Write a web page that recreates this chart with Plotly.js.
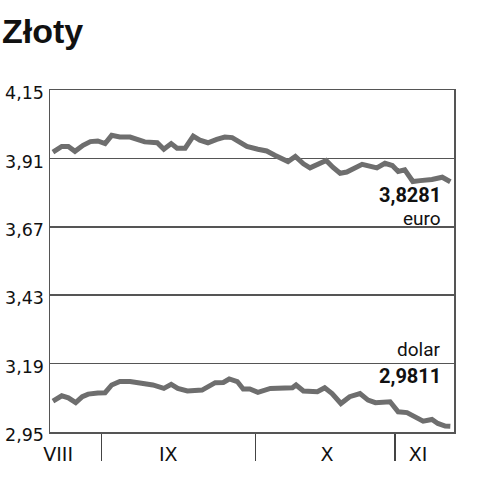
<!DOCTYPE html>
<html>
<head>
<meta charset="utf-8">
<script src="https://cdn.plot.ly/plotly-3.0.1.min.js"></script>
<style>html,body{margin:0;padding:0;background:#fff;}#chart{width:482px;height:480px;}</style>
</head>
<body>
<div id="chart"></div>
<script>
// Trading-day positions (approximate) and PLN rates
const euroDays = [0.4,1.6,2.5,3.4,4.5,5.5,6.5,7.5,8.4,9.5,10.9,11.8,12.9,14.6,15.5,16.5,17.3,18.4,19.5,20.4,21.5,22.7,23.8,24.8,25.6,26.8,28.3,29.5,30.6,32.4,33.4,34.5,35.4,36.5,37.6,38.5,39.5,40.4,42.5,44.5,45.6,46.6,47.4,48.3,49.4,50.4,52.0,53.4,54.5];
const euroValues = [3.932,3.952,3.952,3.935,3.956,3.969,3.971,3.962,3.991,3.985,3.985,3.979,3.968,3.965,3.942,3.962,3.946,3.946,3.988,3.974,3.965,3.977,3.985,3.983,3.971,3.952,3.942,3.936,3.921,3.899,3.917,3.891,3.877,3.891,3.903,3.879,3.858,3.862,3.889,3.877,3.893,3.885,3.864,3.870,3.829,3.832,3.836,3.844,3.828];
const dollarDays = [0.4,1.6,2.5,3.5,4.4,5.2,6.5,7.5,8.4,9.5,10.9,12.3,14.0,15.5,16.5,17.4,18.7,20.7,21.5,22.5,23.6,24.4,25.5,26.3,27.2,28.3,30.0,31.7,33.0,33.5,34.5,36.4,37.4,38.4,39.6,40.8,42.2,43.3,44.3,46.3,47.4,48.6,49.7,50.8,52.0,52.8,53.8,54.5];
const dollarValues = [3.058,3.077,3.070,3.053,3.074,3.083,3.087,3.088,3.115,3.127,3.127,3.123,3.115,3.103,3.117,3.103,3.094,3.097,3.109,3.123,3.124,3.136,3.127,3.101,3.101,3.089,3.103,3.105,3.105,3.115,3.094,3.091,3.105,3.085,3.050,3.074,3.085,3.062,3.053,3.056,3.021,3.018,3.003,2.988,2.994,2.980,2.971,2.970];
const yTicks = [2.95,3.19,3.43,3.67,3.91,4.15];
const monthBoundaries = [7, 28, 47];
const monthLabels = ['VIII','IX','X','XI'];
const monthLabelDays = [1.1, 16.1, 37.7, 50.1];
const euroLast = '3,8281';
const dollarLast = '2,9811';
const seriesNames = ['euro','dolar'];

const lineStyle = {color:'#6e6e6e', width:5, shape:'linear'};
const traces = [
  {x:euroDays, y:euroValues, type:'scatter', mode:'lines', line:lineStyle, name:seriesNames[0], hoverinfo:'skip'},
  {x:dollarDays, y:dollarValues, type:'scatter', mode:'lines', line:lineStyle, name:seriesNames[1], hoverinfo:'skip'},
  {x:monthLabelDays, y:monthLabelDays.map(()=>3.5), xaxis:'x2', type:'scatter', mode:'none', showlegend:false, hoverinfo:'skip'}
];
const fmt = v => v.toFixed(2).replace('.', ',');
const annFont = {family:'Roboto, sans-serif', size:20, color:'#111'};
const smallFont = {family:'Roboto, sans-serif', size:19, color:'#111'};
const layout = {
  width:482, height:480,
  margin:{l:50, r:28, t:90, b:48},
  paper_bgcolor:'#fff', plot_bgcolor:'#fff',
  showlegend:false,
  title:{text:'<b>Złoty</b>', font:{family:'Liberation Sans, Arial, sans-serif', size:34, color:'#111'},
         x:0.004, xref:'container', xanchor:'left', y:0.935, yref:'container', yanchor:'middle'},
  xaxis:{range:[0,55], tickvals:monthBoundaries, ticks:'outside', ticklen:27, tickwidth:1.5, tickcolor:'#444',
         showticklabels:false, showgrid:false, zeroline:false, showline:true, mirror:true, linecolor:'#555', linewidth:1.5, fixedrange:true},
  xaxis2:{range:[0,55], overlaying:'x', anchor:'y', side:'bottom', tickvals:monthLabelDays, ticktext:monthLabels,
          ticks:'', showgrid:false, zeroline:false, showline:false, ticklabelstandoff:9,
          tickfont:{family:'DejaVu Sans, sans-serif', size:19, color:'#111'}},
  yaxis:{range:[2.95,4.15], tickvals:yTicks, ticktext:yTicks.map(fmt), showgrid:true, gridcolor:'#555', gridwidth:1.5,
         zeroline:false, showline:true, mirror:true, linecolor:'#555', linewidth:1.5, ticks:'',
         ticklabelstandoff:1, ticklabelshift:3,
         tickfont:{family:'DejaVu Sans, sans-serif', size:17.5, color:'#111'}},
  annotations:[
    {x:53.5, y:3.780, xref:'x', yref:'y', text:'<b>'+euroLast+'</b>', showarrow:false, xanchor:'right', yanchor:'middle', font:annFont},
    {x:53.5, y:3.700, xref:'x', yref:'y', text:seriesNames[0], showarrow:false, xanchor:'right', yanchor:'middle', font:smallFont},
    {x:53.5, y:3.238, xref:'x', yref:'y', text:seriesNames[1], showarrow:false, xanchor:'right', yanchor:'middle', font:smallFont},
    {x:53.5, y:3.146, xref:'x', yref:'y', text:'<b>'+dollarLast+'</b>', showarrow:false, xanchor:'right', yanchor:'middle', font:annFont}
  ]
};
Plotly.newPlot('chart', traces, layout, {displayModeBar:false, staticPlot:true});
</script>
</body>
</html>
